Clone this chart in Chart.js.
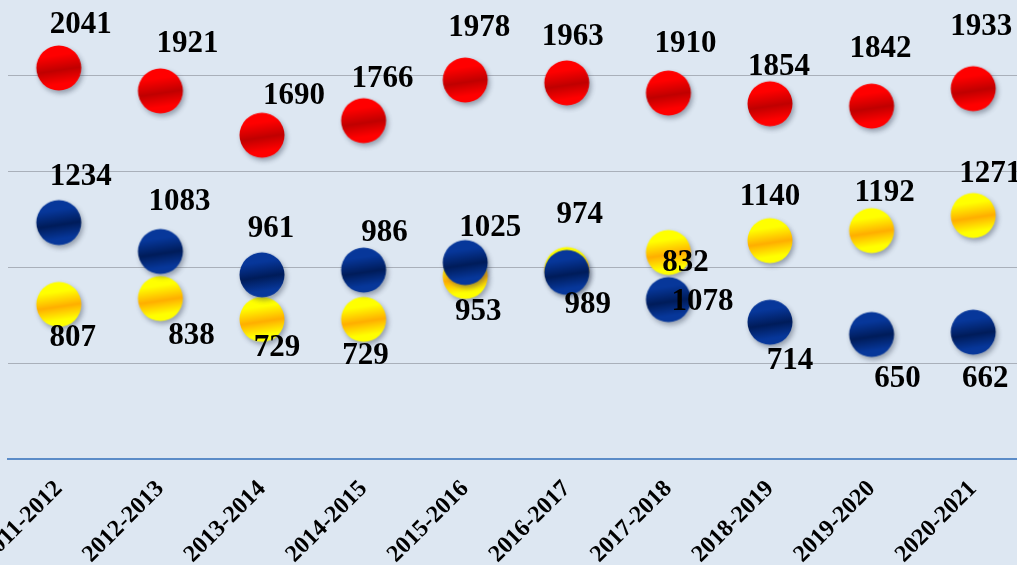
<!DOCTYPE html>
<html>
<head>
<meta charset="utf-8">
<script src="https://cdn.jsdelivr.net/npm/chart.js@4/dist/chart.umd.min.js"></script>
<style>
  html, body { margin: 0; padding: 0; overflow: hidden; background: #dde7f2; }
  body { width: 1017px; height: 565px; position: relative; }
  #wrap { position: absolute; left: 0; top: -25px; width: 1040px; height: 605px; }
</style>
</head>
<body>
<div id="wrap"><canvas id="chart"></canvas></div>
<script>
// years
const categories = ['2011-2012', '2012-2013', '2013-2014', '2014-2015', '2015-2016',
  '2016-2017', '2017-2018', '2018-2019', '2019-2020', '2020-2021'];

// series values
const redValues = [2041, 1921, 1690, 1766, 1978, 1963, 1910, 1854, 1842, 1933];
const navyValues = [1234, 1083, 961, 986, 1025, 974, 832, 714, 650, 662];
const yellowValues = [807, 838, 729, 729, 953, 989, 1078, 1140, 1192, 1271];

// label offsets from the point centre (px), placed by hand in the original
const redLabelOffsets = [[22, -43], [27, -47], [32, -39], [19, -42], [14, -52],
  [6, -46], [17, -49], [9, -37], [9, -57], [8, -62]];
const navyLabelOffsets = [[22, -46], [19, -50], [9, -46], [21, -37], [25, -35],
  [13, -57], [17, -37], [20, 39], [26, 45], [12, 47]];
const yellowLabelOffsets = [[14, 34], [31, 38], [15, 29], [2, 37], [13, 36],
  [21, 35], [34, 50], [0, -44], [13, -38], [17, -41]];

/**
 * 구슬 모양 포인트 이미지
 */
function makeBall(edge, mid) {
  const size = 64;
  const r = 22.5;
  const c = document.createElement('canvas');
  c.width = size;
  c.height = size;
  const ctx = c.getContext('2d');
  const cx = size / 2, cy = size / 2;
  const tx = 0.15 * r, ty = r;
  const g = ctx.createLinearGradient(cx - tx, cy - ty, cx + tx, cy + ty);
  g.addColorStop(0, edge);
  g.addColorStop(0.22, edge);
  g.addColorStop(0.55, mid);
  g.addColorStop(0.85, edge);
  g.addColorStop(1, edge);
  ctx.save();
  ctx.shadowColor = 'rgba(60, 70, 90, 0.45)';
  ctx.shadowBlur = 5;
  ctx.shadowOffsetX = 2;
  ctx.shadowOffsetY = 3;
  ctx.beginPath();
  ctx.arc(cx, cy, r, 0, Math.PI * 2);
  ctx.fillStyle = g;
  ctx.fill();
  ctx.restore();
  return c;
}

const valueLabels = {
  id: 'valueLabels',
  afterDatasetsDraw(chart) {
    const ctx = chart.ctx;
    ctx.save();
    ctx.font = 'bold 31px "Liberation Serif", serif';
    ctx.fillStyle = '#000';
    ctx.textAlign = 'center';
    ctx.textBaseline = 'middle';
    chart.data.datasets.forEach((ds, di) => {
      const meta = chart.getDatasetMeta(di);
      meta.data.forEach((pt, i) => {
        const off = ds.labelOffsets[i];
        ctx.fillText(String(ds.data[i]), pt.x + off[0], pt.y + off[1]);
      });
    });
    ctx.restore();
  }
};

const ctx = document.getElementById('chart').getContext('2d');
new Chart(ctx, {
  type: 'line',
  data: {
    labels: categories,
    datasets: [
      { label: 'red', data: redValues, labelOffsets: redLabelOffsets,
        pointStyle: makeBall('#ff0000', '#c00000') },
      { label: 'navy', data: navyValues, labelOffsets: navyLabelOffsets,
        pointStyle: makeBall('#07379a', '#001c5a') },
      { label: 'yellow', data: yellowValues, labelOffsets: yellowLabelOffsets,
        pointStyle: makeBall('#ffff00', '#ffae00') }
    ]
  },
  options: {
    responsive: true,
    maintainAspectRatio: false,
    animation: false,
    showLine: false,
    layout: { padding: { left: 8, right: 16, top: 0, bottom: 0 } },
    plugins: { legend: { display: false }, tooltip: { enabled: false } },
    scales: {
      x: {
        offset: true,
        grid: { display: false, drawTicks: false },
        border: { color: '#5b8cc8', width: 2 },
        ticks: {
          color: '#000',
          font: { family: '"Liberation Serif", serif', weight: 'bold', size: 24 },
          minRotation: 45,
          maxRotation: 45,
          padding: 16
        },
        afterFit(scale) {
          scale.paddingLeft = 0;
          scale.paddingRight = 0;
          scale.height = 121;
        }
      },
      y: {
        min: 0,
        max: 2500,
        ticks: { display: false, stepSize: 500 },
        border: { display: false },
        grid: {
          drawTicks: false,
          color: c => (c.tick && c.tick.value === 0 ? 'rgba(0,0,0,0)' : '#a9b0ba')
        },
        afterFit(scale) {
          scale.width = 0;
        }
      }
    }
  },
  plugins: [valueLabels]
});
</script>
</body>
</html>
